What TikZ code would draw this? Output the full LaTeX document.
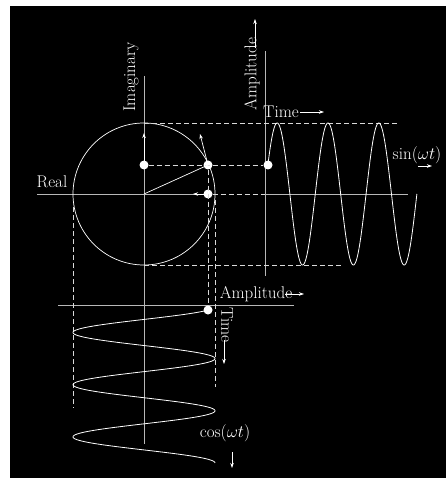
\documentclass[tikz,border=0pt]{standalone}
\usepackage{fontspec}
\usetikzlibrary{arrows.meta}
\begin{document}
\begin{tikzpicture}[x=1pt,y=-1pt,
  every node/.style={text=white,font=\fontsize{17}{20}\selectfont,inner sep=0pt},
  axis/.style={draw=white!72!black,line width=1pt},
  thin line/.style={draw=white,line width=0.7pt},
  dash line/.style={draw=white!85!black,line width=0.9pt,dash pattern=on 5pt off 3pt},
  curve/.style={draw=white,line width=0.8pt},
  dot/.style={circle,fill=white,minimum size=9pt,inner sep=0pt},
  tip/.style={-{Stealth[length=5pt,width=3.5pt]},draw=white,line width=0.7pt}]
\useasboundingbox (0,0) rectangle (446,478);
\fill[white] (0,0) rectangle (446,478);
\fill[black] (10,6) rectangle (446,478);
% coordinates
\coordinate (O) at (144,194);
\coordinate (ImTop) at (144,76);
\coordinate (ImBot) at (144,444);
\coordinate (ReL) at (37,194);
\coordinate (ReR) at (208,194);
\coordinate (TimeL) at (265,194);
\coordinate (TimeR) at (408,194);
\coordinate (AmpT) at (265,51);
\coordinate (AmpB) at (265,276);
\coordinate (CosL) at (58,305);
\coordinate (CosR) at (294,305);
\coordinate (CTop) at (144,123);
\coordinate (CBot) at (144,265);
\coordinate (TopEnd) at (399,123);
\coordinate (BotEnd) at (343,265);
\coordinate (LTop) at (73,207);
\coordinate (LBot) at (73,408);
\coordinate (RTop) at (215,200);
\coordinate (RBot) at (215,387);
\coordinate (VelTip) at (200,134);
\coordinate (ImTip) at (144,133);
\coordinate (ReTip) at (193,194);
% axes
\draw[axis] (ImTop) -- (ImBot);
\draw[axis] (ReL) -- (ReR);
\draw[axis] (TimeL) -- (TimeR);
\draw[axis] (AmpT) -- (AmpB);
\draw[axis] (CosL) -- (CosR);
% circle
\draw[thin line] (O) circle[radius=71pt];
% dots
\node[dot] (Im) at (144,165) {};
\node[dot] (P) at (208,165) {};
\node[dot] (S) at (268,165) {};
\node[dot] (Re) at (208,194) {};
\node[dot] (C) at (208,310) {};
% dashed projections
\draw[dash line] (Im) -- (S);
\draw[dash line] (CTop) -- (TopEnd);
\draw[dash line] (CBot) -- (BotEnd);
\draw[dash line] (Re) -- (TimeL);
\draw[dash line] (P) -- (C);
\draw[dash line] (LTop) -- (LBot);
\draw[dash line] (RTop) -- (RBot);
% radius and velocity
\draw[thin line] (O) -- (P.center);
\draw[tip] (P.center) -- (VelTip);
\draw[tip] (Im.center) -- (ImTip);
\draw[tip] (Re.center) -- (ReTip);
% curves
\draw[curve] plot[domain=25:1080,samples=400] ({268+(\x-25)/360*50.8},{194-71*sin(\x)});
\draw[curve] plot[domain=25:1080,samples=400] ({144+71*cos(\x)},{310+(\x-25)/360*52.2});
% labels
\node[rotate=90] (LIm) at (131,77) {Imaginary};
\node (LRe) at (52,182) {Real};
\node[rotate=90] (LAmp1) at (252,74) {Amplitude};
\coordinate (A1a) at (255,48);
\coordinate (A1b) at (255,19);
\draw[tip] (A1a) -- (A1b);
\node (LT1) at (281,112) {Time};
\coordinate (T1a) at (300,112);
\coordinate (T1b) at (324,112);
\draw[tip] (T1a) -- (T1b);
\node (LSin) at (417,155) {$\sin(\omega t)$};
\coordinate (S1a) at (418,166);
\coordinate (S1b) at (432,166);
\draw[tip] (S1a) -- (S1b);
\node (LAmp2) at (256,294) {Amplitude};
\coordinate (A2a) at (285,294);
\coordinate (A2b) at (304,294);
\draw[tip] (A2a) -- (A2b);
\node[rotate=-90] (LT2) at (227,325) {Time};
\coordinate (T2a) at (224,340);
\coordinate (T2b) at (224,364);
\draw[tip] (T2a) -- (T2b);
\node (LCos) at (225,433) {$\cos(\omega t)$};
\coordinate (C1a) at (232,452);
\coordinate (C1b) at (232,468);
\draw[tip] (C1a) -- (C1b);
\end{tikzpicture}
\end{document}
